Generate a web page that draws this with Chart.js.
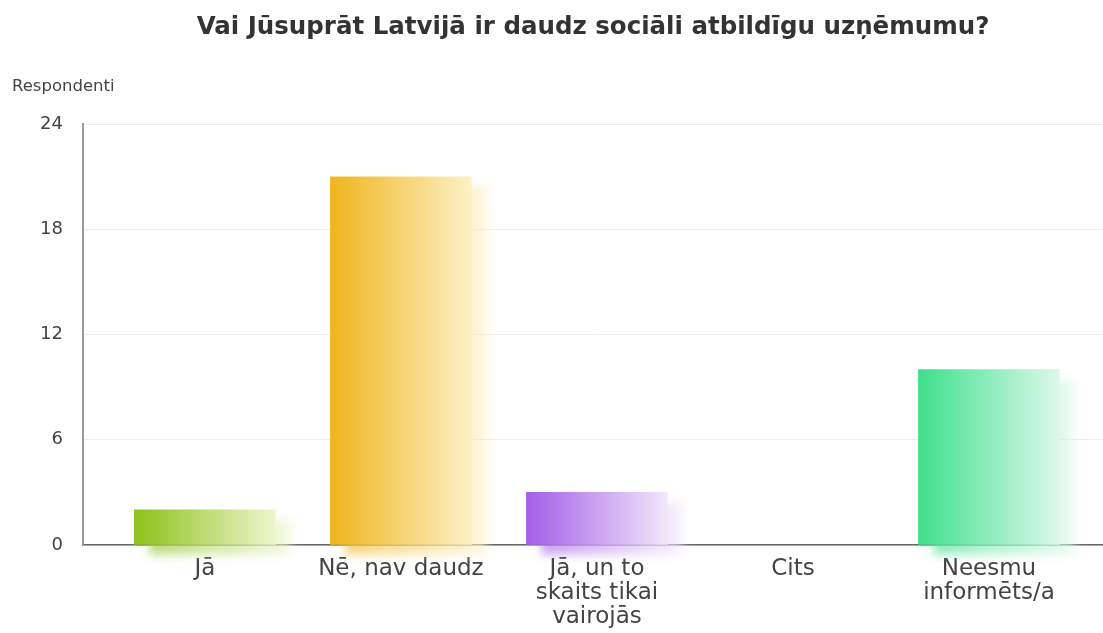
<!DOCTYPE html>
<html lang="lv">
<head>
<meta charset="utf-8">
<title>Sociāli atbildīgi uzņēmumi</title>
<script src="https://cdn.jsdelivr.net/npm/chart.js@4/dist/chart.umd.min.js"></script>
<style>
  html, body { margin: 0; padding: 0; background: #fff; }
  #wrap { width: 1103px; height: 633px; }
</style>
</head>
<body>
<div id="wrap"><canvas id="surveyChart" width="1103" height="633"></canvas></div>
<script>
// aptaujas atbildes
const categories = [
    'Jā',
    'Nē, nav daudz',
    ['Jā, un to', 'skaits tikai', 'vairojās'],
    'Cits',
    ['Neesmu', 'informēts/a']
];
const respondents = [2, 21, 3, 0, 10];
const yTicks = [0, 6, 12, 18, 24];

// krāsa stabiņa kreisajā malā un bālā krāsa labajā
const barLeft = ['#8cc21c', '#f0b51e', '#a45ee8', '#3fe08c', '#3fe08c'];
const barRight = ['#edf5cc', '#fdf1c6', '#f1e7fb', '#dcf8ea', '#dcf8ea'];

const FONT = "'DejaVu Sans', Verdana, sans-serif";

function barGradient(ctx, chart, i, dx) {
    const x = chart.scales.x.getPixelForValue(i);
    const half = 70;
    const g = ctx.createLinearGradient(x - half + dx, 0, x + half + dx, 0);
    g.addColorStop(0, barLeft[i]);
    g.addColorStop(1, barRight[i]);
    return g;
}

// izplūdusi ēna aiz katra stabiņa
const barGlow = {
    id: 'barGlow',
    beforeDatasetsDraw(chart) {
        const ctx = chart.ctx;
        const meta = chart.getDatasetMeta(0);
        meta.data.forEach((bar, i) => {
            if (!respondents[i]) return;
            const w = bar.width;
            ctx.save();
            ctx.filter = 'blur(5px)';
            ctx.globalAlpha = 0.6;
            ctx.fillStyle = barGradient(ctx, chart, i, 15);
            ctx.fillRect(bar.x - w / 2 + 15, bar.y + 10, w, bar.base - bar.y);
            ctx.restore();
        });
    }
};

const ctx = document.getElementById('surveyChart').getContext('2d');
new Chart(ctx, {
    type: 'bar',
    data: {
        datasets: [{
            // nulles vērtībai stabiņu nezīmē
            data: respondents.map((v, i) => ({ x: i, y: v || null })),
            barThickness: 141,
            borderWidth: 0,
            backgroundColor: function(c) {
                const chart = c.chart;
                if (!chart.chartArea || c.dataIndex === undefined) return barLeft[0];
                return barGradient(chart.ctx, chart, c.dataIndex, 0);
            }
        }]
    },
    options: {
        responsive: false,
        animation: false,
        layout: { padding: { left: 12, right: 0, top: 0, bottom: 0 } },
        plugins: {
            legend: { display: false },
            tooltip: { enabled: false },
            title: {
                display: true,
                fullSize: false,
                text: 'Vai Jūsuprāt Latvijā ir daudz sociāli atbildīgu uzņēmumu?',
                color: '#333',
                font: { family: FONT, size: 24.5, weight: 'bold' },
                padding: { top: 13, bottom: 0 }
            },
            subtitle: {
                display: true,
                text: 'Respondenti',
                align: 'start',
                color: '#444',
                font: { family: FONT, size: 16.5 },
                padding: { top: 34, bottom: 28 }
            }
        },
        scales: {
            x: {
                type: 'linear',
                offset: false,
                min: -0.622,
                max: 4.582,
                afterBuildTicks: axis => {
                    axis.ticks = categories.map((_, i) => ({ value: i }));
                },
                afterFit: scale => { scale.height = 88; },
                grid: { display: false, offset: false },
                border: { color: '#666', width: 1.5 },
                ticks: {
                    autoSkip: false,
                    maxRotation: 0,
                    padding: 4,
                    color: '#444',
                    font: { family: FONT, size: 23, lineHeight: 1.04 },
                    callback: v => categories[v]
                }
            },
            y: {
                min: 0,
                max: 24,
                afterBuildTicks: axis => {
                    axis.ticks = yTicks.map(v => ({ value: v }));
                },
                afterFit: scale => { scale.width = 71; },
                grid: { color: '#ececec', lineWidth: 1, drawTicks: false },
                border: { color: '#999', width: 2 },
                ticks: {
                    padding: 20,
                    color: '#444',
                    font: { family: FONT, size: 18 }
                }
            }
        }
    },
    plugins: [barGlow]
});
</script>
</body>
</html>
